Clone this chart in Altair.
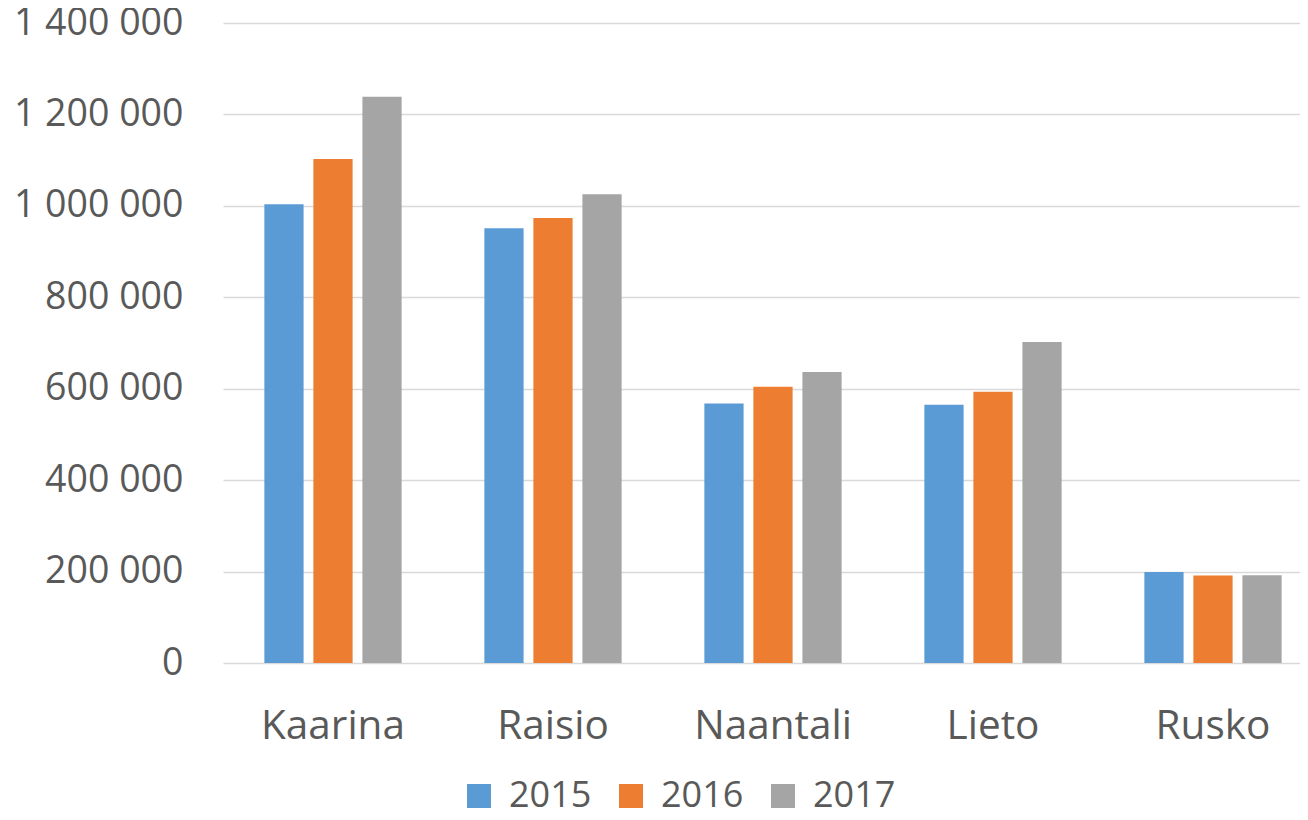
import altair as alt
import pandas as pd

municipalities = ["Kaarina", "Raisio", "Naantali", "Lieto", "Rusko"]
years = ["2015", "2016", "2017"]
values_2015 = [1003500, 951000, 567800, 565000, 199000]
values_2016 = [1102300, 973300, 604400, 593400, 191200]
values_2017 = [1238800, 1025600, 636600, 702300, 192000]
colors = ["#5B9BD5", "#ED7D31", "#A5A5A5"]
y_ticks = [0, 200000, 400000, 600000, 800000, 1000000, 1200000, 1400000]

rows = []
for year, vals in zip(years, [values_2015, values_2016, values_2017]):
    for m, v in zip(municipalities, vals):
        rows.append({"kunta": m, "vuosi": year, "arvo": v})
df = pd.DataFrame(rows)

FONT = "Open Sans"
GRAY = "#595959"

chart = alt.Chart(df).mark_bar().encode(
    x=alt.X("kunta:N", sort=municipalities, title=None,
            scale=alt.Scale(range=[0, 1100], paddingInner=0.376, paddingOuter=0.188),
            axis=alt.Axis(labelAngle=0, labelFontSize=40.5, labelColor=GRAY, labelFont=FONT,
                          ticks=False, domain=False, labelPadding=43)),
    xOffset=alt.XOffset("vuosi:N", sort=years,
                        scale=alt.Scale(paddingInner=0.2, paddingOuter=0)),
    y=alt.Y("arvo:Q", title=None,
            scale=alt.Scale(domain=[0, 1400000], nice=False),
            axis=alt.Axis(values=y_ticks, labelFontSize=37.5, labelColor=GRAY, labelFont=FONT,
                          labelExpr="replace(replace(format(datum.value, ','), ',', ' '), ',', ' ')",
                          ticks=False, domain=False, labelPadding=40,
                          gridColor="#D9D9D9", gridWidth=1.5)),
    color=alt.Color("vuosi:N", sort=years, title=None,
                    scale=alt.Scale(domain=years, range=colors),
                    legend=alt.Legend(orient="none", direction="horizontal",
                                      legendX=238, legendY=755,
                                      symbolType="square", symbolSize=576,
                                      symbolStrokeWidth=0, labelFontSize=36,
                                      labelColor=GRAY, labelFont=FONT,
                                      labelOffset=12, columnPadding=21)),
).properties(
    width=1077, height=640,
    autosize=alt.AutoSizeParams(type="none"),
    padding={"left": 215, "top": 15, "right": 0, "bottom": 149},
).configure_view(stroke=None).configure_axis(gridColor="#D9D9D9")

chart.save("out.html", embed_options={"renderer": "svg", "actions": False})
